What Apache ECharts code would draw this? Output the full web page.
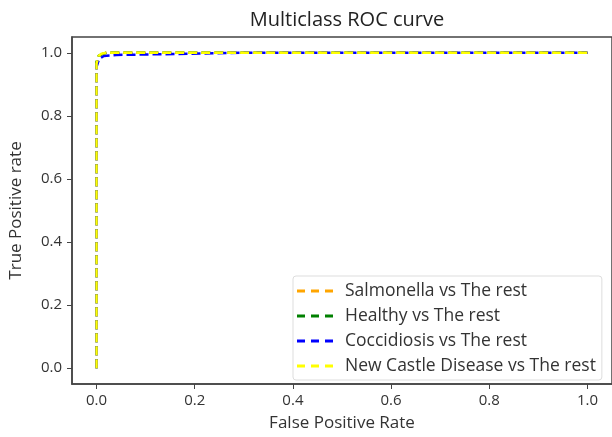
<!DOCTYPE html>
<html><head><meta charset="utf-8">
<script src="https://cdn.jsdelivr.net/npm/echarts@6/dist/echarts.min.js"></script>
<style>html,body{margin:0;padding:0;background:#fff}#c{width:612px;height:437px}</style>
</head><body><div id="c"></div>
<script>
const title = "Multiclass ROC curve";
const xLabel = "False Positive Rate";
const yLabel = "True Positive rate";
const tickLabels = ["0.0","0.2","0.4","0.6","0.8","1.0"];
const seriesNames = ["Salmonella vs The rest","Healthy vs The rest","Coccidiosis vs The rest","New Castle Disease vs The rest"];
const colors = ["#ffa500","#008000","#0000ff","#ffff00"];

const salmonellaFpr = [0, 0, 0.005, 0.01, 0.02, 1.0];
const salmonellaTpr = [0, 0.97, 0.99, 0.995, 1.0, 1.0];
const healthyFpr = [0, 0, 0.004, 0.01, 0.02, 1.0];
const healthyTpr = [0, 0.97, 0.99, 0.995, 1.0, 1.0];
const coccidiosisFpr = [0, 0, 0.005, 0.015, 0.04, 0.3, 1.0];
const coccidiosisTpr = [0, 0.955, 0.98, 0.99, 0.993, 1.0, 1.0];
const ncdFpr = [0, 0, 0.004, 0.01, 0.02, 1.0];
const ncdTpr = [0, 0.965, 0.99, 0.997, 1.0, 1.0];

const fprs = [salmonellaFpr, healthyFpr, coccidiosisFpr, ncdFpr];
const tprs = [salmonellaTpr, healthyTpr, coccidiosisTpr, ncdTpr];

const font = "Open Sans";
const dashIcon = 'path://M0,0h8v3h-8z M14,0h8v3h-8z M28,0h8v3h-8z';
const ticks = [0,0.2,0.4,0.6,0.8,1.0];
const chart = echarts.init(document.getElementById('c'), null, {renderer:'canvas'});
chart.setOption({
  animation:false,
  backgroundColor:'#fff',
  title:{text:title,left:342,top:5,textAlign:'center',textStyle:{fontFamily:font,fontSize:20,fontWeight:'normal',color:'#222'}},
  grid:{left:72,right:-1,top:37,bottom:48,show:true,borderColor:'#444',borderWidth:1.5,backgroundColor:'transparent'},
  legend:{
    orient:'vertical',left:293,bottom:57,
    icon:dashIcon,
    itemWidth:36,itemHeight:3,itemGap:7,
    padding:[6,6,5,4],
    backgroundColor:'#fff',borderColor:'#ddd',borderWidth:1,borderRadius:3,
    textStyle:{fontFamily:font,fontSize:17.5,color:'#333',lineHeight:17,padding:[0,0,0,7]},
    data:seriesNames
  },
  xAxis:{type:'value',min:-0.05,max:1.05,
    name:xLabel,nameLocation:'middle',nameGap:31,nameTextStyle:{fontFamily:font,fontSize:17,color:'#333'},
    axisLine:{show:true,onZero:false,lineStyle:{color:'#444',width:1.5}},
    axisTick:{show:true,length:5,lineStyle:{color:'#444'},customValues:ticks},
    axisLabel:{fontFamily:font,fontSize:15,color:'#333',margin:9,customValues:ticks,formatter:v=>tickLabels[Math.round(v*5)]},
    splitLine:{show:false}},
  yAxis:{type:'value',min:-0.05,max:1.05,
    name:yLabel,nameLocation:'middle',nameGap:47,nameTextStyle:{fontFamily:font,fontSize:17,color:'#333'},
    axisLine:{show:true,onZero:false,lineStyle:{color:'#444',width:1.5}},
    axisTick:{show:true,length:5,lineStyle:{color:'#444'},customValues:ticks},
    axisLabel:{fontFamily:font,fontSize:15,color:'#333',margin:10,customValues:ticks,formatter:v=>tickLabels[Math.round(v*5)]},
    splitLine:{show:false}},
  series: seriesNames.map((n,i)=>({
    name:n,type:'line',symbol:'none',
    data:fprs[i].map((x,j)=>[x,tprs[i][j]]),
    lineStyle:{color:colors[i],width:2.5,type:[9,4]},
    itemStyle:{color:colors[i]},
    z:2+i
  }))
});
</script></body></html>
